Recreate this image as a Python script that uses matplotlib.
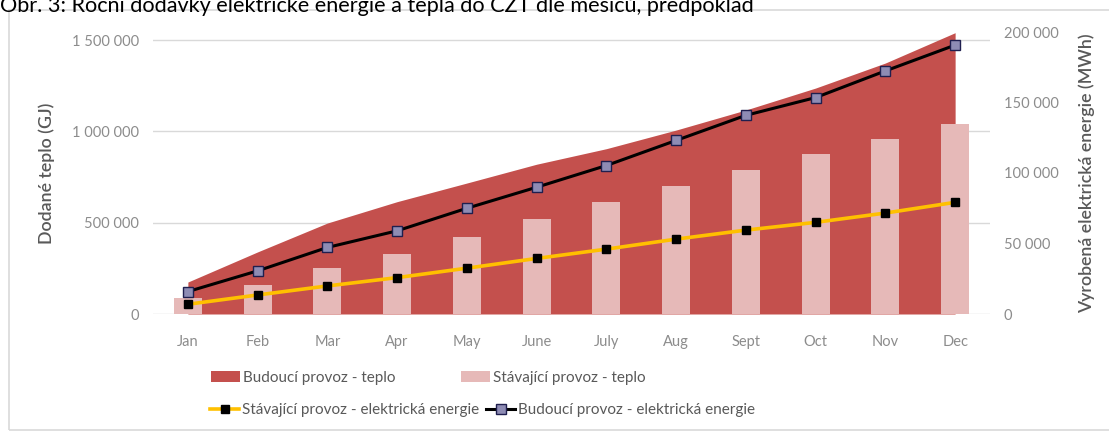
import matplotlib.pyplot as plt
from matplotlib.lines import Line2D
from matplotlib.patches import Patch, Rectangle
from matplotlib.ticker import FuncFormatter

months = ["Jan", "Feb", "Mar", "Apr", "May", "June", "July", "Aug", "Sept", "Oct", "Nov", "Dec"]

# heat supplied (GJ)
heat_future = [175000, 340000, 498000, 615000, 717000, 820000, 905000,
               1007000, 1117000, 1237000, 1374000, 1540000]
heat_current = [86000, 159000, 250000, 328000, 423000, 518000, 615000,
                702000, 788000, 874000, 956000, 1040000]

# electricity generated (MWh)
power_current = [6900, 13500, 19900, 25800, 32500, 39400, 46000,
                 53100, 59500, 65000, 71600, 79200]
power_future = [15900, 30600, 47200, 59000, 75000, 89900, 105300,
                123100, 140900, 153500, 172400, 190700]

RED = "#C4504D"
PINK = "#E6B9B8"
GOLD = "#FFC000"
GRAY_TXT = "#8C8C8C"
LABEL_TXT = "#595959"

plt.rcParams["font.family"] = ["Lato", "DejaVu Sans"]

W, H = 1109, 432
fig = plt.figure(figsize=(W / 100, H / 100), dpi=100)

# chart frame
fig.patches.append(Rectangle((9 / W, 0.005), 1.2, 1 - 10 / H - 0.005,
                             transform=fig.transFigure, fill=False,
                             edgecolor="#D9D9D9", linewidth=1.2))

fig.text(0.0, 1 - 12.5 / H, "Obr. 3: Roční dodávky elektrické energie a tepla do CZT dle měsíců, předpoklad",
         fontsize=15.6, color="black", ha="left", va="baseline")

ax = fig.add_axes([153 / W, 1 - 314 / H, (990 - 153) / W, (314 - 32) / H])
x = list(range(len(months)))

ax.fill_between(x, 0, heat_future, color=RED, linewidth=0, zorder=2)
ax.bar(x, heat_current, width=0.4, color=PINK, zorder=3)

ax.set_xlim(-0.5, 11.5)
ax.set_ylim(0, 1543800)
ax.set_yticks([0, 500000, 1000000, 1500000])
ax.yaxis.set_major_formatter(FuncFormatter(lambda v, _: f"{int(v):,}".replace(",", " ")))
ax.set_xticks(x)
ax.set_xticklabels(months)
ax.grid(axis="y", color="#D9D9D9", linewidth=1, zorder=0)
ax.set_axisbelow(True)
for s in ax.spines.values():
    s.set_visible(False)
ax.tick_params(length=0, colors=GRAY_TXT, labelsize=10.5, pad=10)
ax.tick_params(axis="x", pad=15)
ax.set_ylabel("Dodané teplo (GJ)", fontsize=12.8, color=LABEL_TXT, fontweight="semibold", labelpad=12)

ax2 = ax.twinx()
ax2.plot(x, power_current, color=GOLD, linewidth=2.6, marker="s", markersize=6,
         markerfacecolor="black", markeredgecolor="black", zorder=4)
ax2.plot(x, power_future, color="black", linewidth=2.2, marker="s", markersize=6.5,
         markerfacecolor="#8E8CB4", markeredgecolor="#1F1F4F", markeredgewidth=1, zorder=5)
ax2.set_ylim(0, 200000)
ax2.set_yticks([0, 50000, 100000, 150000, 200000])
ax2.yaxis.set_major_formatter(FuncFormatter(lambda v, _: f"{int(v):,}".replace(",", " ")))
for s in ax2.spines.values():
    s.set_visible(False)
ax2.tick_params(length=0, colors=GRAY_TXT, labelsize=10.5, pad=10)
ax2.set_ylabel("Vyrobená elektrická energie (MWh)", fontsize=12.8, color=LABEL_TXT,
               fontweight="semibold", labelpad=14)

entries = [
    (Patch(facecolor=RED), "Budoucí provoz - teplo", 211, 378),
    (Patch(facecolor=PINK), "Stávající provoz - teplo", 461, 378),
    (Line2D([], [], color=GOLD, linewidth=2.6, marker="s", markersize=6,
            markerfacecolor="black", markeredgecolor="black"),
     "Stávající provoz - elektrická energie", 210, 410),
    (Line2D([], [], color="black", linewidth=2.2, marker="s", markersize=6.5,
            markerfacecolor="#8E8CB4", markeredgecolor="#1F1F4F"),
     "Budoucí provoz - elektrická energie", 486, 410),
]
for handle, label, px, py in entries:
    fig.legend(handles=[handle], labels=[label], loc="center left",
               bbox_to_anchor=(px / W, 1 - py / H), frameon=False, borderpad=0,
               borderaxespad=0, handlelength=1.9, handletextpad=0.2,
               fontsize=11, labelcolor=LABEL_TXT)

fig.savefig("out.png", dpi=100)
